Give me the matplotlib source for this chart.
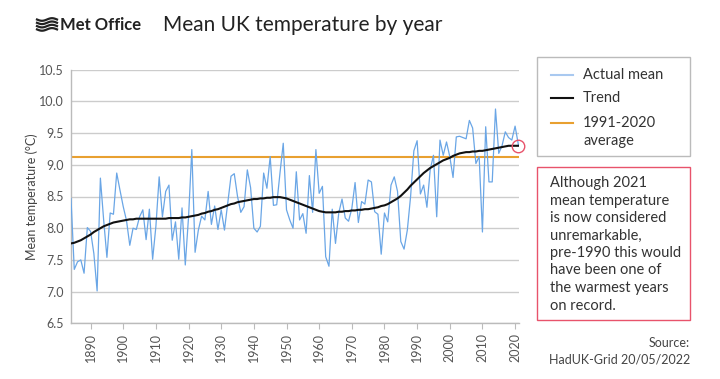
import numpy as np
import matplotlib
matplotlib.use("Agg")
import matplotlib.pyplot as plt
from matplotlib.patches import Rectangle, ConnectionPatch
from matplotlib.lines import Line2D

years = np.arange(1884, 2022)
actual_mean = [
    8.47, 7.35, 7.47, 7.50, 7.29, 8.01, 7.95, 7.60, 7.01, 8.79,
    8.13, 7.54, 8.24, 8.22, 8.87, 8.60, 8.34, 8.12, 7.73, 8.00,
    7.98, 8.18, 8.29, 7.82, 8.30, 7.51, 8.03, 8.81, 8.18, 8.58,
    8.68, 7.81, 8.10, 7.51, 8.32, 7.42, 8.18, 9.24, 7.62, 7.97,
    8.19, 8.13, 8.58, 8.06, 8.35, 7.98, 8.29, 7.97, 8.39, 8.82,
    8.86, 8.50, 8.25, 8.34, 8.92, 8.64, 8.00, 7.94, 8.03, 8.87,
    8.63, 9.13, 8.36, 8.37, 8.87, 9.34, 8.29, 8.13, 8.00, 8.89,
    8.13, 8.23, 7.92, 8.83, 8.25, 9.24, 8.55, 8.66, 7.55, 7.40,
    8.30, 7.76, 8.24, 8.46, 8.16, 8.11, 8.31, 8.72, 8.09, 8.42,
    8.38, 8.76, 8.73, 8.26, 8.22, 7.59, 8.24, 8.10, 8.68, 8.81,
    8.58, 7.79, 7.67, 7.97, 8.50, 9.22, 9.38, 8.54, 8.68, 8.33,
    8.92, 9.15, 8.18, 9.39, 9.15, 9.36, 9.13, 8.80, 9.44, 9.45,
    9.43, 9.41, 9.70, 9.58, 9.02, 9.13, 7.94, 9.60, 8.73, 8.73,
    9.88, 9.18, 9.30, 9.52, 9.43, 9.39, 9.61, 9.32,
]
trend = [
    7.76, 7.77, 7.79, 7.81, 7.84, 7.87, 7.90, 7.94, 7.97, 8.00,
    8.03, 8.05, 8.07, 8.09, 8.10, 8.11, 8.12, 8.13, 8.14, 8.14,
    8.15, 8.15, 8.15, 8.15, 8.15, 8.15, 8.15, 8.15, 8.15, 8.15,
    8.16, 8.16, 8.16, 8.16, 8.17, 8.17, 8.18, 8.19, 8.20, 8.21,
    8.23, 8.24, 8.26, 8.27, 8.29, 8.30, 8.32, 8.34, 8.36, 8.38,
    8.39, 8.41, 8.42, 8.43, 8.44, 8.45, 8.46, 8.46, 8.47, 8.47,
    8.48, 8.48, 8.49, 8.49, 8.49, 8.48, 8.47, 8.45, 8.43, 8.41,
    8.39, 8.37, 8.35, 8.33, 8.31, 8.29, 8.27, 8.26, 8.25, 8.25,
    8.25, 8.25, 8.26, 8.26, 8.27, 8.27, 8.28, 8.28, 8.29, 8.29,
    8.30, 8.30, 8.31, 8.32, 8.33, 8.35, 8.36, 8.38, 8.41, 8.44,
    8.47, 8.51, 8.56, 8.61, 8.67, 8.72, 8.77, 8.82, 8.87, 8.91,
    8.95, 8.98, 9.01, 9.04, 9.07, 9.09, 9.11, 9.14, 9.16, 9.18,
    9.19, 9.20, 9.20, 9.21, 9.21, 9.22, 9.22, 9.23, 9.24, 9.25,
    9.26, 9.27, 9.28, 9.29, 9.30, 9.30, 9.30, 9.30,
]
average_1991_2020 = 9.13
y_ticks = [6.5, 7.0, 7.5, 8.0, 8.5, 9.0, 9.5, 10.0, 10.5]
x_ticks = [1890, 1900, 1910, 1920, 1930, 1940, 1950, 1960, 1970, 1980, 1990, 2000, 2010, 2020]
note_lines = [
    "Although 2021",
    "mean temperature",
    "is now considered",
    "unremarkable,",
    "pre-1990 this would",
    "have been one of",
    "the warmest years",
    "on record.",
]

FONT = "Lato"
TEXT = "#333333"
GREY = "#cccccc"
BLUE = "#6aa6e6"
ORANGE = "#e8a030"
RED = "#e8536b"
W, H = 720, 379

plt.rcParams["font.family"] = [FONT, "DejaVu Sans"]

fig = plt.figure(figsize=(7.2, 3.79), dpi=100)
ax = fig.add_axes([71 / W, 1 - 323.3 / H, (519 - 71) / W, (323.3 - 69.7) / H])

ax.plot(years, actual_mean, color=BLUE, lw=0.9, zorder=3)
ax.plot(years, trend, color="#111111", lw=1.5, zorder=4)
ax.axhline(average_1991_2020, color=ORANGE, lw=1.5, zorder=2)

ax.set_xlim(1884, 2021.2)
ax.set_ylim(6.5, 10.5)
ax.set_yticks(y_ticks)
ax.set_yticklabels([f"{v:.1f}" for v in y_ticks])
ax.set_xticks(x_ticks)
ax.set_xticklabels([str(v) for v in x_ticks], rotation=90)
ax.grid(axis="y", color=GREY, lw=1.0, zorder=0)
for side in ("top", "right"):
    ax.spines[side].set_visible(False)
for side in ("left", "bottom"):
    ax.spines[side].set_color("#bbbbbb")
    ax.spines[side].set_linewidth(1.0)
ax.tick_params(axis="y", length=0, pad=5, labelsize=9, labelcolor="#555555")
ax.tick_params(axis="x", length=4, color="#bbbbbb", pad=3, labelsize=9, labelcolor="#555555")
ax.set_ylabel("Mean temperature (°C)", fontsize=9, color="#444444")
ax.yaxis.set_label_coords(-(71 - 38) / 448, 0.5)

# marker on the 2021 trend value and connector to the note box
ax.plot([years[-1]], [trend[-1]], marker="o", ms=9, mfc="none", mec=RED, mew=1.0,
        clip_on=False, zorder=6)
con = ConnectionPatch(xyA=(years[-1] + 1.2, trend[-1] - 0.08), coordsA="data", axesA=ax,
                      xyB=(537 / W, 1 - 167 / H), coordsB="figure fraction",
                      color=RED, lw=1.0)
fig.add_artist(con)

# header
fig.text(60 / W, 1 - 25 / H, "Met Office", fontsize=12, fontweight="bold",
         color="#222222", va="center", ha="left")
xs = np.linspace(37, 57, 40)
for k in range(4):
    yy = 19.5 + k * 3.3 + 1.3 * np.sin((xs - 37) / 20 * 2 * np.pi)
    fig.add_artist(Line2D(xs / W, 1 - yy / H, color="#222222", lw=1.6,
                          transform=fig.transFigure))
fig.text(163 / W, 1 - 25 / H, "Mean UK temperature by year", fontsize=15,
         color="#222222", va="center", ha="left")

# legend box
fig.add_artist(Rectangle((537 / W, 1 - 156 / H), (690 - 537) / W, (156 - 57) / H,
                         transform=fig.transFigure, fill=False, ec="#bbbbbb", lw=1.0))
legend_items = [("#a9c9f0", 75, "Actual mean"), ("#111111", 98, "Trend"), (ORANGE, 123, "1991-2020")]
for color, yp, label in legend_items:
    fig.add_artist(Line2D([551 / W, 573 / W], [1 - yp / H] * 2, color=color, lw=1.5,
                          transform=fig.transFigure))
    fig.text(583 / W, 1 - yp / H, label, fontsize=10.5, color=TEXT, va="center", ha="left")
fig.text(583 / W, 1 - 141 / H, "average", fontsize=10.5, color=TEXT, va="center", ha="left")

# note box
fig.add_artist(Rectangle((537 / W, 1 - 320 / H), (690 - 537) / W, (320 - 167) / H,
                         transform=fig.transFigure, fill=False, ec=RED, lw=1.0))
for i, line in enumerate(note_lines):
    fig.text(550 / W, 1 - (183 + i * 17.5) / H, line, fontsize=10.5, color=TEXT,
             va="center", ha="left")

fig.text(690 / W, 1 - 343 / H, "Source:", fontsize=9, color="#444444", va="center", ha="right")
fig.text(690 / W, 1 - 360 / H, "HadUK-Grid 20/05/2022", fontsize=9, color="#444444",
         va="center", ha="right")

fig.savefig("out.png", dpi=100)
